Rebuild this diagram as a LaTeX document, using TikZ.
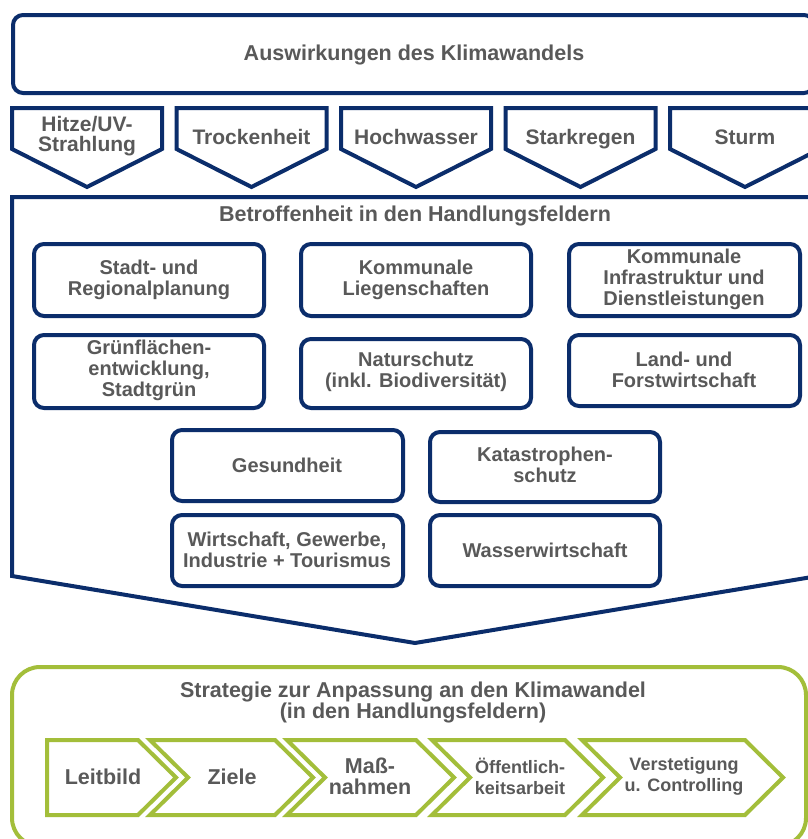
\documentclass[tikz,border=0pt]{standalone}
\usepackage{fontspec}
\setmainfont{Liberation Sans}
\definecolor{navy}{HTML}{0B2D6B}
\definecolor{lgreen}{HTML}{A3BE3A}
\definecolor{txtgray}{HTML}{595959}
\begin{document}
\begin{tikzpicture}[x=1pt,y=-1pt,
  navyline/.style={draw=navy,line width=4pt,line join=miter},
  greenline/.style={draw=lgreen,line width=4pt,line join=miter},
  fieldbox/.style={draw=navy,line width=4pt,rounded corners=10pt},
  lbl/.style={text=txtgray,font=\bfseries\fontsize{20}{21}\selectfont,align=center,inner sep=0pt},
  biglbl/.style={text=txtgray,font=\bfseries\fontsize{21.5}{21}\selectfont,align=center,inner sep=0pt},
  smalllbl/.style={text=txtgray,font=\bfseries\fontsize{18}{21}\selectfont,align=center,inner sep=0pt}
]
\useasboundingbox (0,0) rectangle (808,839);
\clip (0,0) rectangle (808,839);
\fill[white] (0,0) rectangle (808,839);

% top box
\draw[navyline,rounded corners=10pt] (13,15) rectangle (814,93);
\node[biglbl,anchor=base] (top) at (414,60) {Auswirkungen des Klimawandels};

% pentagons
\foreach \x in {12,176.5,341,505.5,670}{
  \draw[navyline] (\x,108) -- ++(150,0) -- ++(0,41) -- ++(-75,38) -- ++(-75,-38) -- cycle;
}
\node[biglbl,font=\bfseries\fontsize{21}{20}\selectfont] (p1) at (87,136) {Hitze/UV-\\Strahlung};
\foreach \x/\n/\t in {176.5/p2/Trockenheit,341/p3/Hochwasser,505.5/p4/Starkregen,670/p5/Sturm}{
  \node[biglbl,font=\bfseries\fontsize{21}{20}\selectfont,anchor=base] (\n) at (\x+75,144) {\t};
}

% big block
\draw[navyline] (830,197) -- (12,197) -- (12,576) -- (415,643) -- (818,576) -- (830,576);
\node[biglbl,anchor=base] (betr) at (415,221) {Betroffenheit in den Handlungsfeldern};

% field boxes
\draw[fieldbox] (34,244) rectangle (264,316);
\node[lbl] (b1) at (149,280) {Stadt- und\\Regionalplanung};
\draw[fieldbox] (301,244) rectangle (531,316);
\node[lbl] (b2) at (416,280) {Kommunale\\Liegenschaften};
\draw[fieldbox] (569,244) rectangle (800,316);
\node[lbl] (b3) at (684,279) {Kommunale\\Infrastruktur und\\Dienstleistungen};

\draw[fieldbox] (34,335) rectangle (264,408);
\node[lbl] (b4) at (149,370) {Grünflächen-\\entwicklung,\\Stadtgrün};
\draw[fieldbox] (301,339) rectangle (531,408);
\node[lbl] (b5) at (416,372) {Naturschutz\\(inkl. Biodiversität)};
\draw[fieldbox] (569,335) rectangle (800,406);
\node[lbl] (b6) at (684,370) {Land- und\\Forstwirtschaft};

\draw[fieldbox] (172,430) rectangle (403,501);
\node[lbl] (b7) at (287,465) {Gesundheit};
\draw[fieldbox] (430,432) rectangle (660,502);
\node[lbl] (b8) at (545,465) {Katastrophen-\\schutz};
\draw[fieldbox] (172,515) rectangle (403,586);
\node[lbl] (b9) at (287,550) {Wirtschaft, Gewerbe,\\Industrie + Tourismus};
\draw[fieldbox] (430,515) rectangle (660,586);
\node[lbl] (b10) at (545,550) {Wasserwirtschaft};

% green strategy box
\draw[greenline,rounded corners=28pt] (12,667) rectangle (806,846);
\node[biglbl] (strat) at (413,702) {Strategie zur Anpassung an den Klimawandel\\(in den Handlungsfeldern)};

% chevrons
\draw[greenline] (47,740) -- (138,740) -- (176,777.5) -- (138,815) -- (47,815) -- cycle;
\node[biglbl] (c1) at (103,777) {Leitbild};
\foreach \a/\b in {150/275,287/416,432/565,582/745}{
  \draw[greenline] (\a,740) -- (\b,740) -- (\b+38,777.5) -- (\b,815) -- (\a,815) -- (\a+38,777.5) -- cycle;
}
\node[biglbl] (c2) at (232,777) {Ziele};
\node[biglbl] (c3) at (370,776) {Maß-\\nahmen};
\node[smalllbl] (c4) at (520,776) {Öffentlich-\\keitsarbeit};
\node[smalllbl] (c5) at (684,776) {Verstetigung\\u. Controlling};
\end{tikzpicture}
\end{document}
